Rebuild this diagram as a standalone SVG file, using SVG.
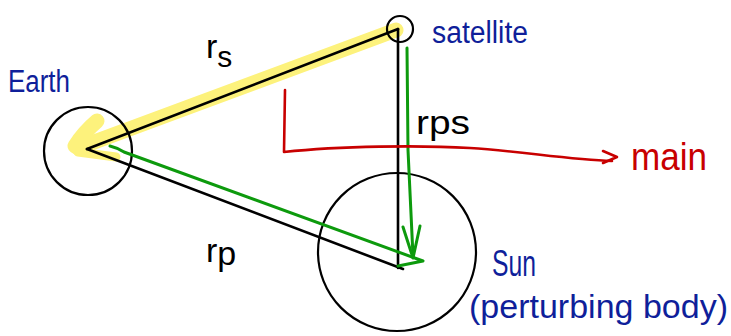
<svg xmlns="http://www.w3.org/2000/svg" width="731" height="336" viewBox="0 0 731 336">
<style>
.hl{fill:none;stroke:#fdf27c;stroke-linecap:round;stroke-linejoin:round}
.blk{fill:none;stroke:#000;stroke-width:2.6;stroke-linecap:round}
.grn{fill:none;stroke:#0d9a0d;stroke-width:3;stroke-linecap:round;stroke-linejoin:round}
.red{fill:none;stroke:#c80000;stroke-width:2.6;stroke-linecap:round;stroke-linejoin:round}
.body{fill:none;stroke:#000;stroke-width:2.2}
.lbl{font-family:"Liberation Sans",Arial,sans-serif;fill:#0f1f9a}
.vec{font-family:"Liberation Sans",Arial,sans-serif;fill:#000}
</style>
<rect width="731" height="336" fill="#fff"/>
<g id="highlight">
<path class="hl" stroke-width="15" d="M78,148 L396,30"/>
<path class="hl" stroke-width="15" d="M97,121 Q84,132 75,146"/>
<path class="hl" stroke-width="9" d="M78,152 L116,157"/>
</g>
<g id="earth">
<circle class="body" cx="88" cy="151" r="44"/>
<text class="lbl" x="8" y="92" font-size="31" textLength="62" lengthAdjust="spacingAndGlyphs">Earth</text>
</g>
<g id="satellite">
<circle class="body" cx="400" cy="29" r="13"/>
<text class="lbl" x="432" y="43" font-size="31" textLength="96" lengthAdjust="spacingAndGlyphs">satellite</text>
</g>
<g id="sun">
<circle class="body" cx="397" cy="252" r="79"/>
<text class="lbl" x="492" y="276" font-size="37" textLength="44" lengthAdjust="spacingAndGlyphs">Sun</text>
<text class="lbl" x="469" y="318" font-size="33" textLength="259" lengthAdjust="spacingAndGlyphs">(perturbing body)</text>
</g>
<g id="connectors">
<path class="blk" d="M87,149 L398,29"/>
<path class="blk" d="M398,29 L398,268"/>
<path class="blk" d="M87,149 L403,269"/>
<path class="grn" d="M110,146 Q118,148 124,152 L423,261 L398,266"/>
<path class="grn" d="M407,48 L408,150 L413,256"/>
<path class="grn" d="M403,227 L413,258 L420,226"/>
<path class="red" d="M285,90 L284,152 C340,146 420,145 470,148 S570,160 612,161"/>
<path class="red" d="M603,151 L617,157 L603,163"/>
</g>
<g id="labels">
<text class="vec" x="206" y="58" font-size="34">r<tspan font-size="30" dy="9">s</tspan></text>
<text class="vec" x="416" y="134" font-size="34" textLength="54" lengthAdjust="spacingAndGlyphs">rps</text>
<text class="vec" x="206" y="262" font-size="34">r<tspan dy="3">p</tspan></text>
<text x="631" y="170" font-size="38" textLength="76" lengthAdjust="spacingAndGlyphs" style="font-family:'Liberation Sans',Arial,sans-serif;fill:#c80000">main</text>
</g>
</svg>
